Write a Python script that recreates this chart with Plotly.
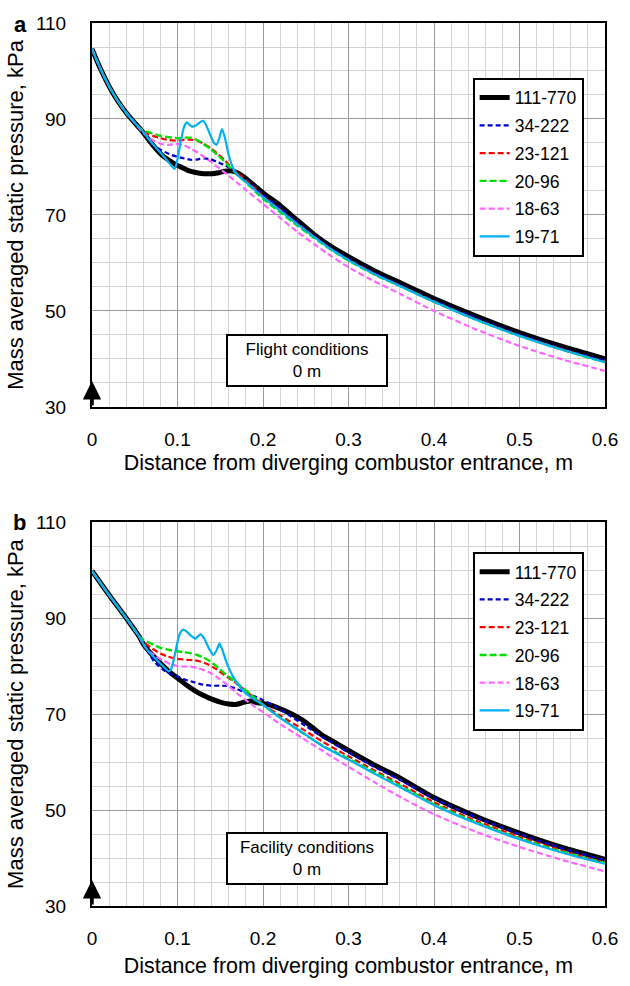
import plotly.graph_objects as go

# ---------------- data ----------------
X_TICKS = [0, 0.1, 0.2, 0.3, 0.4, 0.5, 0.6]
X_TICK_TEXT = ["0", "0.1", "0.2", "0.3", "0.4", "0.5", "0.6"]
Y_TICKS = [30, 50, 70, 90, 110]
Y_TICK_TEXT = ["30", "50", "70", "90", "110"]

SERIES_NAMES = ["111-770", "34-222", "23-121", "20-96", "18-63", "19-71"]

# shared upstream segment (all cases coincide)
TOP_BASE_X = [0, 0.01, 0.02, 0.03, 0.04, 0.05]
TOP_BASE_Y = [104.6, 100.4, 96.8, 93.8, 91.3, 89.2]
BOT_BASE_X = [0, 0.01, 0.02, 0.03, 0.04, 0.05]
BOT_BASE_Y = [99.8, 97.3, 94.8, 92.4, 90.0, 87.5]

# ---- panel a: flight conditions ----
TOP_111_770_X = [0.058, 0.07, 0.081, 0.09, 0.097, 0.105, 0.112, 0.12, 0.131, 0.14, 0.148, 0.155, 0.162, 0.17, 0.18, 0.19, 0.2, 0.21, 0.22, 0.24, 0.26, 0.28, 0.3, 0.33, 0.36, 0.4, 0.45, 0.5, 0.55, 0.6]
TOP_111_770_Y = [87.6, 84.8, 82.6, 81.4, 80.6, 79.9, 79.3, 78.9, 78.6, 78.6, 78.8, 79.1, 79.2, 78.8, 77.6, 76.1, 74.6, 73.3, 72.0, 68.9, 65.9, 63.4, 61.3, 58.4, 55.9, 52.6, 48.9, 45.5, 42.6, 40.0]

TOP_34_222_X = [0.058, 0.07, 0.08, 0.093, 0.105, 0.116, 0.124, 0.131, 0.139, 0.146, 0.155, 0.162, 0.17, 0.18, 0.19, 0.2, 0.22, 0.24, 0.26, 0.28, 0.3, 0.33, 0.36, 0.4, 0.45, 0.5, 0.55, 0.6]
TOP_34_222_Y = [87.7, 85.0, 83.6, 82.5, 81.9, 81.5, 81.6, 81.8, 81.6, 81.1, 80.4, 79.7, 78.7, 77.4, 75.8, 74.2, 71.5, 68.5, 65.6, 63.0, 60.9, 58.0, 55.5, 52.2, 48.5, 45.1, 42.2, 39.6]

TOP_23_121_X = [0.058, 0.065, 0.08, 0.09, 0.1, 0.108, 0.116, 0.124, 0.131, 0.139, 0.146, 0.154, 0.161, 0.17, 0.18, 0.19, 0.2, 0.22, 0.24, 0.26, 0.28, 0.3, 0.33, 0.36, 0.4, 0.45, 0.5, 0.55, 0.6]
TOP_23_121_Y = [87.7, 86.9, 86.0, 85.6, 85.5, 85.7, 85.7, 85.4, 84.8, 83.9, 82.9, 81.6, 80.3, 78.8, 77.2, 75.6, 73.9, 71.0, 68.2, 65.5, 62.9, 60.7, 57.8, 55.3, 52.0, 48.2, 44.9, 42.0, 39.4]

TOP_20_96_X = [0.058, 0.065, 0.08, 0.09, 0.1, 0.108, 0.116, 0.124, 0.131, 0.139, 0.146, 0.154, 0.161, 0.17, 0.184, 0.2, 0.22, 0.24, 0.26, 0.28, 0.3, 0.33, 0.36, 0.4, 0.45, 0.5, 0.55, 0.6]
TOP_20_96_Y = [87.8, 87.3, 86.5, 86.2, 86.0, 86.1, 86.1, 85.5, 84.7, 83.7, 82.6, 81.3, 80.0, 78.4, 76.1, 73.4, 70.6, 67.8, 65.2, 62.7, 60.5, 57.6, 55.2, 51.9, 48.1, 44.8, 41.9, 39.3]

TOP_18_63_X = [0.058, 0.064, 0.07, 0.081, 0.09, 0.1, 0.108, 0.116, 0.127, 0.138, 0.15, 0.161, 0.17, 0.18, 0.2, 0.22, 0.24, 0.26, 0.28, 0.3, 0.33, 0.36, 0.4, 0.45, 0.5, 0.55, 0.6]
TOP_18_63_Y = [87.5, 86.5, 85.7, 84.8, 84.6, 84.8, 84.5, 83.8, 82.6, 81.2, 79.6, 78.0, 76.7, 75.2, 72.3, 69.4, 66.5, 63.9, 61.4, 59.1, 56.2, 53.6, 50.0, 46.1, 42.7, 39.9, 37.5]

TOP_19_71_X = [0.058, 0.07, 0.08, 0.09, 0.0966, 0.1, 0.104, 0.108, 0.111, 0.114, 0.117, 0.122, 0.127, 0.13, 0.133, 0.138, 0.143, 0.146, 0.149, 0.152, 0.155, 0.16, 0.165, 0.17, 0.18, 0.19, 0.2, 0.22, 0.24, 0.26, 0.28, 0.3, 0.33, 0.36, 0.4, 0.45, 0.5, 0.55, 0.6]
TOP_19_71_Y = [87.7, 85.0, 83.0, 80.9, 79.6, 81.6, 85.6, 88.5, 89.3, 88.8, 88.4, 88.7, 89.4, 89.6, 88.9, 86.8, 84.9, 84.7, 86.1, 87.9, 86.4, 82.4, 79.8, 78.3, 76.9, 75.3, 73.7, 70.9, 68.1, 65.4, 62.8, 60.6, 57.7, 55.2, 51.9, 48.1, 44.8, 41.9, 39.3]

# ---- panel b: facility conditions ----
BOT_111_770_X = [0.055, 0.061, 0.07, 0.08, 0.09, 0.1, 0.11, 0.12, 0.13, 0.14, 0.15, 0.16, 0.168, 0.175, 0.181, 0.186, 0.192, 0.2, 0.21, 0.22, 0.23, 0.24, 0.25, 0.26, 0.27, 0.28, 0.3, 0.33, 0.36, 0.4, 0.45, 0.5, 0.55, 0.6]
BOT_111_770_Y = [86.2, 84.3, 82.4, 80.6, 78.9, 77.5, 76.1, 74.9, 73.9, 73.1, 72.5, 72.1, 72.0, 72.3, 72.6, 72.7, 72.4, 72.2, 71.8, 71.1, 70.3, 69.4, 68.3, 66.9, 65.5, 64.5, 62.4, 59.4, 56.7, 52.6, 48.6, 45.2, 42.2, 39.7]

BOT_34_222_X = [0.055, 0.062, 0.073, 0.085, 0.1, 0.11, 0.12, 0.13, 0.14, 0.15, 0.16, 0.17, 0.18, 0.19, 0.2, 0.215, 0.231, 0.25, 0.268, 0.285, 0.3, 0.33, 0.36, 0.4, 0.45, 0.5, 0.55, 0.6]
BOT_34_222_Y = [86.2, 84.0, 80.9, 79.0, 77.8, 77.1, 76.6, 76.1, 75.9, 75.9, 75.8, 75.2, 74.4, 73.7, 72.9, 71.5, 69.7, 67.5, 65.4, 63.6, 62.0, 59.0, 56.3, 52.4, 48.4, 45.0, 42.0, 39.5]

BOT_23_121_X = [0.055, 0.06, 0.069, 0.08, 0.088, 0.1, 0.111, 0.12, 0.126, 0.136, 0.146, 0.155, 0.165, 0.18, 0.19, 0.2, 0.22, 0.245, 0.27, 0.3, 0.33, 0.36, 0.4, 0.45, 0.5, 0.55, 0.6]
BOT_23_121_Y = [86.2, 85.1, 83.8, 82.6, 82.0, 81.5, 81.3, 81.2, 81.0, 80.3, 79.3, 78.1, 76.9, 74.8, 73.3, 72.0, 69.7, 67.0, 64.2, 61.2, 58.3, 55.5, 51.6, 47.7, 44.4, 41.5, 39.0]

BOT_20_96_X = [0.055, 0.06, 0.069, 0.08, 0.092, 0.107, 0.115, 0.123, 0.13, 0.138, 0.148, 0.157, 0.167, 0.176, 0.188, 0.2, 0.22, 0.245, 0.27, 0.3, 0.33, 0.36, 0.4, 0.45, 0.5, 0.55, 0.6]
BOT_20_96_Y = [86.2, 85.5, 84.7, 83.8, 83.3, 82.9, 82.7, 82.3, 81.8, 81.0, 79.6, 78.2, 76.8, 75.5, 73.7, 71.9, 69.3, 66.2, 63.4, 60.7, 57.9, 55.1, 51.2, 47.4, 44.1, 41.3, 38.9]

BOT_18_63_X = [0.055, 0.06, 0.065, 0.075, 0.084, 0.092, 0.1, 0.108, 0.115, 0.123, 0.13, 0.14, 0.149, 0.16, 0.169, 0.18, 0.19, 0.2, 0.22, 0.245, 0.27, 0.3, 0.34, 0.37, 0.4, 0.45, 0.5, 0.55, 0.6]
BOT_18_63_Y = [86.2, 84.6, 83.3, 82.0, 81.1, 80.4, 80.0, 79.9, 79.9, 79.6, 79.2, 78.4, 77.3, 75.8, 74.4, 72.9, 71.6, 70.4, 67.9, 65.1, 62.3, 59.0, 54.8, 51.8, 49.1, 45.4, 42.3, 39.6, 37.2]

BOT_19_71_X = [0.055, 0.062, 0.07, 0.08, 0.09, 0.093, 0.097, 0.1, 0.103, 0.1065, 0.11, 0.116, 0.121, 0.124, 0.127, 0.131, 0.137, 0.142, 0.146, 0.149, 0.152, 0.158, 0.165, 0.172, 0.18, 0.19, 0.2, 0.22, 0.245, 0.27, 0.3, 0.33, 0.36, 0.4, 0.45, 0.5, 0.55, 0.6]
BOT_19_71_Y = [86.2, 84.0, 82.3, 80.5, 78.9, 79.6, 82.5, 85.0, 86.9, 87.6, 87.3, 86.3, 85.7, 86.2, 86.6, 85.8, 83.6, 82.3, 83.4, 84.7, 83.6, 80.4, 77.8, 75.9, 74.3, 73.0, 71.9, 69.2, 66.3, 63.3, 60.5, 57.6, 54.8, 51.0, 47.2, 43.9, 41.1, 38.8]

TOP_SERIES = [(TOP_111_770_X, TOP_111_770_Y), (TOP_34_222_X, TOP_34_222_Y), (TOP_23_121_X, TOP_23_121_Y),
              (TOP_20_96_X, TOP_20_96_Y), (TOP_18_63_X, TOP_18_63_Y), (TOP_19_71_X, TOP_19_71_Y)]
BOT_SERIES = [(BOT_111_770_X, BOT_111_770_Y), (BOT_34_222_X, BOT_34_222_Y), (BOT_23_121_X, BOT_23_121_Y),
              (BOT_20_96_X, BOT_20_96_Y), (BOT_18_63_X, BOT_18_63_Y), (BOT_19_71_X, BOT_19_71_Y)]

# ---------------- styles ----------------
STYLES = [
    dict(color="#000000", width=5, dash="solid"),
    dict(color="#0000CC", width=2.2, dash="5px,3px"),
    dict(color="#FF0000", width=2.2, dash="6px,3px"),
    dict(color="#00E000", width=2.4, dash="7px,3px"),
    dict(color="#FF66FF", width=2.2, dash="6px,3px"),
    dict(color="#00B0F0", width=2.2, dash="solid"),
]

FONT = "Liberation Sans, Arial, sans-serif"

fig = go.Figure()

for panel, (series, bx, by) in enumerate([(TOP_SERIES, TOP_BASE_X, TOP_BASE_Y),
                                          (BOT_SERIES, BOT_BASE_X, BOT_BASE_Y)]):
    xa = "x" if panel == 0 else "x2"
    ya = "y" if panel == 0 else "y2"
    lg = "legend" if panel == 0 else "legend2"
    for i, (sx, sy) in enumerate(series):
        fig.add_trace(go.Scatter(
            x=bx + sx, y=by + sy, mode="lines", name=SERIES_NAMES[i],
            line=dict(color=STYLES[i]["color"], width=STYLES[i]["width"],
                      dash=STYLES[i]["dash"], shape="spline", smoothing=0.6),
            xaxis=xa, yaxis=ya, legend=lg, legendgroup=f"{lg}_{i}",
        ))

axis_common = dict(
    showline=True, linecolor="black", linewidth=2, mirror=True,
    showgrid=True, gridcolor="#9a9a9a", gridwidth=1.2, zeroline=False,
    ticks="", tickfont=dict(family=FONT, size=19, color="black"),
)

def x_cfg(standoff):
    return dict(axis_common, range=[0, 0.6], tickvals=X_TICKS, ticktext=X_TICK_TEXT,
                minor=dict(dtick=0.02, tick0=0, showgrid=True, gridcolor="#d4d4d4", gridwidth=1.2),
                ticklabelstandoff=14,
                title=dict(text="Distance from diverging combustor entrance, m",
                           font=dict(family=FONT, size=21.4, color="black"), standoff=standoff))

yaxis_cfg = dict(axis_common, range=[30, 110], tickvals=Y_TICKS, ticktext=Y_TICK_TEXT,
                 minor=dict(dtick=5, tick0=30, showgrid=True, gridcolor="#d4d4d4", gridwidth=1.2),
                 ticklabelstandoff=20,
                 title=dict(text="Mass averaged static pressure, kPa",
                            font=dict(family=FONT, size=22, color="black"), standoff=6))

legend_cfg = dict(bgcolor="white", bordercolor="black", borderwidth=2,
                  font=dict(family=FONT, size=17.5, color="black"),
                  itemwidth=30, tracegroupgap=2, xanchor="left", yanchor="top", x=0.742)

fig.update_layout(
    width=630, height=986,
    margin=dict(l=92, r=16, t=23, b=73),
    plot_bgcolor="white", paper_bgcolor="white",
    xaxis=dict(x_cfg(6), domain=[0, 1], anchor="y"),
    yaxis=dict(yaxis_cfg, domain=[0.5652, 1], anchor="x"),
    xaxis2=dict(x_cfg(10), domain=[0, 1], anchor="y2"),
    yaxis2=dict(yaxis_cfg, domain=[0, 0.4348], anchor="x2"),
    legend=dict(legend_cfg, y=0.938),
    legend2=dict(legend_cfg, y=0.4011),
    showlegend=True,
)

# condition boxes
for xr, yr, txt, yy in [("x", "y", "Flight conditions<br>0 m", 39.6),
                        ("x2", "y2", "Facility conditions<br>0 m", 40.0)]:
    fig.add_annotation(x=0.2514, y=yy, xref=xr, yref=yr, text=txt, showarrow=False,
                       font=dict(family=FONT, size=17, color="black"),
                       bgcolor="white", bordercolor="black", borderwidth=2, borderpad=1,
                       width=156, height=47, align="center")
    # entrance arrow at x = 0
    fig.add_annotation(x=0, y=35.4, xref=xr, yref=yr, ax=0, ay=30, axref=xr, ayref=yr,
                       showarrow=True, arrowhead=2, arrowsize=1.05, arrowwidth=3.5,
                       arrowcolor="black", text="")

# panel letters
fig.add_annotation(x=-0.14, y=0.998, xref="paper", yref="paper", text="<b>a</b>",
                   showarrow=False, xanchor="center", yanchor="middle",
                   font=dict(family=FONT, size=22, color="black"))
fig.add_annotation(x=-0.141, y=0.4348, xref="paper", yref="paper", text="<b>b</b>",
                   showarrow=False, xanchor="center", yanchor="middle",
                   font=dict(family=FONT, size=22, color="black"))

fig.write_html("out.html")
